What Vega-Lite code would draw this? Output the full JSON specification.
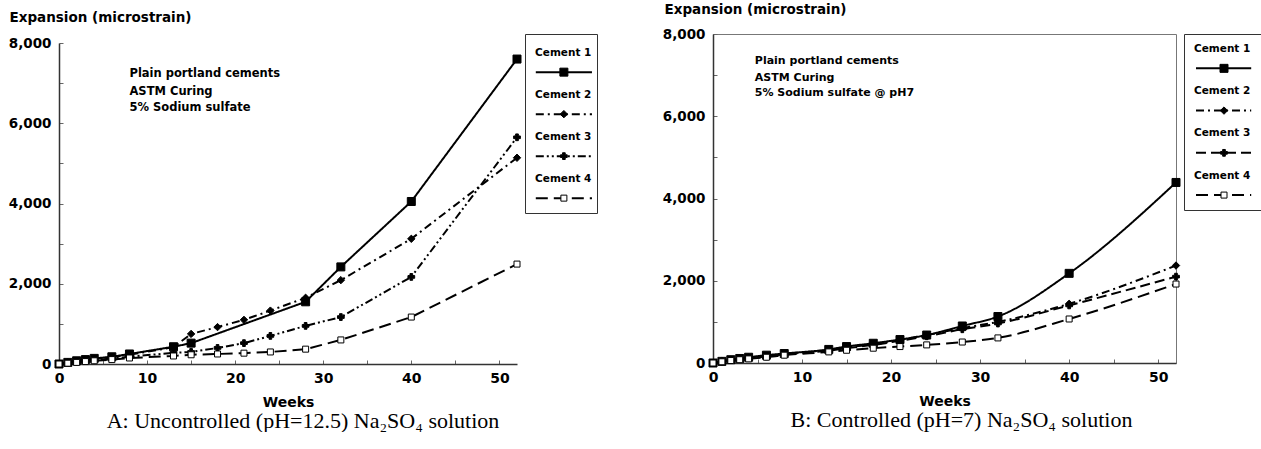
{
  "$schema": "https://vega.github.io/schema/vega-lite/v6.json",
  "background": "white",
  "padding": {"left": 8, "top": 1, "right": 0, "bottom": 0},
  "bounds": "flush",
  "spacing": 8,
  "config": {"font": "DejaVu Sans", "view": {"stroke": "#777"}},
  "resolve": {"scale": {"strokeDash": "independent", "shape": "independent", "fill": "independent", "size": "independent"}},
  "datasets": {
    "a": [
      {"cement": "Cement 1", "week": 0, "exp": 0}, {"cement": "Cement 1", "week": 1, "exp": 40}, {"cement": "Cement 1", "week": 2, "exp": 80}, {"cement": "Cement 1", "week": 3, "exp": 110}, {"cement": "Cement 1", "week": 4, "exp": 140}, {"cement": "Cement 1", "week": 6, "exp": 180}, {"cement": "Cement 1", "week": 8, "exp": 250}, {"cement": "Cement 1", "week": 13, "exp": 430}, {"cement": "Cement 1", "week": 15, "exp": 520}, {"cement": "Cement 1", "week": 28, "exp": 1550}, {"cement": "Cement 1", "week": 32, "exp": 2420}, {"cement": "Cement 1", "week": 40, "exp": 4050}, {"cement": "Cement 1", "week": 52, "exp": 7600},
      {"cement": "Cement 2", "week": 0, "exp": 0}, {"cement": "Cement 2", "week": 1, "exp": 40}, {"cement": "Cement 2", "week": 2, "exp": 70}, {"cement": "Cement 2", "week": 3, "exp": 100}, {"cement": "Cement 2", "week": 4, "exp": 130}, {"cement": "Cement 2", "week": 6, "exp": 170}, {"cement": "Cement 2", "week": 8, "exp": 230}, {"cement": "Cement 2", "week": 13, "exp": 420}, {"cement": "Cement 2", "week": 15, "exp": 750}, {"cement": "Cement 2", "week": 18, "exp": 920}, {"cement": "Cement 2", "week": 21, "exp": 1100}, {"cement": "Cement 2", "week": 24, "exp": 1330}, {"cement": "Cement 2", "week": 28, "exp": 1650}, {"cement": "Cement 2", "week": 32, "exp": 2090}, {"cement": "Cement 2", "week": 40, "exp": 3120}, {"cement": "Cement 2", "week": 52, "exp": 5140},
      {"cement": "Cement 3", "week": 0, "exp": 0}, {"cement": "Cement 3", "week": 1, "exp": 30}, {"cement": "Cement 3", "week": 2, "exp": 60}, {"cement": "Cement 3", "week": 3, "exp": 80}, {"cement": "Cement 3", "week": 4, "exp": 100}, {"cement": "Cement 3", "week": 6, "exp": 140}, {"cement": "Cement 3", "week": 8, "exp": 180}, {"cement": "Cement 3", "week": 13, "exp": 280}, {"cement": "Cement 3", "week": 15, "exp": 300}, {"cement": "Cement 3", "week": 18, "exp": 400}, {"cement": "Cement 3", "week": 21, "exp": 520}, {"cement": "Cement 3", "week": 24, "exp": 700}, {"cement": "Cement 3", "week": 28, "exp": 950}, {"cement": "Cement 3", "week": 32, "exp": 1170}, {"cement": "Cement 3", "week": 40, "exp": 2170}, {"cement": "Cement 3", "week": 52, "exp": 5650},
      {"cement": "Cement 4", "week": 0, "exp": 0}, {"cement": "Cement 4", "week": 1, "exp": 20}, {"cement": "Cement 4", "week": 2, "exp": 40}, {"cement": "Cement 4", "week": 3, "exp": 60}, {"cement": "Cement 4", "week": 4, "exp": 80}, {"cement": "Cement 4", "week": 6, "exp": 110}, {"cement": "Cement 4", "week": 8, "exp": 150}, {"cement": "Cement 4", "week": 13, "exp": 200}, {"cement": "Cement 4", "week": 15, "exp": 230}, {"cement": "Cement 4", "week": 18, "exp": 250}, {"cement": "Cement 4", "week": 21, "exp": 270}, {"cement": "Cement 4", "week": 24, "exp": 300}, {"cement": "Cement 4", "week": 28, "exp": 370}, {"cement": "Cement 4", "week": 32, "exp": 600}, {"cement": "Cement 4", "week": 40, "exp": 1170}, {"cement": "Cement 4", "week": 52, "exp": 2490}
    ],
    "b": [
      {"cement": "Cement 1", "week": 0, "exp": 0}, {"cement": "Cement 1", "week": 1, "exp": 40}, {"cement": "Cement 1", "week": 2, "exp": 80}, {"cement": "Cement 1", "week": 3, "exp": 110}, {"cement": "Cement 1", "week": 4, "exp": 140}, {"cement": "Cement 1", "week": 6, "exp": 190}, {"cement": "Cement 1", "week": 8, "exp": 230}, {"cement": "Cement 1", "week": 13, "exp": 330}, {"cement": "Cement 1", "week": 15, "exp": 400}, {"cement": "Cement 1", "week": 18, "exp": 480}, {"cement": "Cement 1", "week": 21, "exp": 570}, {"cement": "Cement 1", "week": 24, "exp": 680}, {"cement": "Cement 1", "week": 28, "exp": 900}, {"cement": "Cement 1", "week": 32, "exp": 1130}, {"cement": "Cement 1", "week": 40, "exp": 2180}, {"cement": "Cement 1", "week": 52, "exp": 4390},
      {"cement": "Cement 2", "week": 0, "exp": 0}, {"cement": "Cement 2", "week": 1, "exp": 40}, {"cement": "Cement 2", "week": 2, "exp": 70}, {"cement": "Cement 2", "week": 3, "exp": 100}, {"cement": "Cement 2", "week": 4, "exp": 130}, {"cement": "Cement 2", "week": 6, "exp": 170}, {"cement": "Cement 2", "week": 8, "exp": 220}, {"cement": "Cement 2", "week": 13, "exp": 320}, {"cement": "Cement 2", "week": 15, "exp": 380}, {"cement": "Cement 2", "week": 18, "exp": 450}, {"cement": "Cement 2", "week": 21, "exp": 560}, {"cement": "Cement 2", "week": 24, "exp": 680}, {"cement": "Cement 2", "week": 28, "exp": 850}, {"cement": "Cement 2", "week": 32, "exp": 1000}, {"cement": "Cement 2", "week": 40, "exp": 1440}, {"cement": "Cement 2", "week": 52, "exp": 2370},
      {"cement": "Cement 3", "week": 0, "exp": 0}, {"cement": "Cement 3", "week": 1, "exp": 40}, {"cement": "Cement 3", "week": 2, "exp": 70}, {"cement": "Cement 3", "week": 3, "exp": 100}, {"cement": "Cement 3", "week": 4, "exp": 120}, {"cement": "Cement 3", "week": 6, "exp": 160}, {"cement": "Cement 3", "week": 8, "exp": 210}, {"cement": "Cement 3", "week": 13, "exp": 300}, {"cement": "Cement 3", "week": 15, "exp": 360}, {"cement": "Cement 3", "week": 18, "exp": 440}, {"cement": "Cement 3", "week": 21, "exp": 540}, {"cement": "Cement 3", "week": 24, "exp": 650}, {"cement": "Cement 3", "week": 28, "exp": 820}, {"cement": "Cement 3", "week": 32, "exp": 960}, {"cement": "Cement 3", "week": 40, "exp": 1400}, {"cement": "Cement 3", "week": 52, "exp": 2100},
      {"cement": "Cement 4", "week": 0, "exp": 0}, {"cement": "Cement 4", "week": 1, "exp": 30}, {"cement": "Cement 4", "week": 2, "exp": 60}, {"cement": "Cement 4", "week": 3, "exp": 80}, {"cement": "Cement 4", "week": 4, "exp": 100}, {"cement": "Cement 4", "week": 6, "exp": 140}, {"cement": "Cement 4", "week": 8, "exp": 190}, {"cement": "Cement 4", "week": 13, "exp": 270}, {"cement": "Cement 4", "week": 15, "exp": 310}, {"cement": "Cement 4", "week": 18, "exp": 360}, {"cement": "Cement 4", "week": 21, "exp": 400}, {"cement": "Cement 4", "week": 24, "exp": 440}, {"cement": "Cement 4", "week": 28, "exp": 510}, {"cement": "Cement 4", "week": 32, "exp": 610}, {"cement": "Cement 4", "week": 40, "exp": 1070}, {"cement": "Cement 4", "week": 52, "exp": 1920}
    ],
    "leg": [{"cement": "Cement 1"}, {"cement": "Cement 2"}, {"cement": "Cement 3"}, {"cement": "Cement 4"}],
    "noteA": [{"week": 8, "exp": 7227, "note": "Plain portland cements"}, {"week": 8, "exp": 6779, "note": "ASTM Curing"}, {"week": 8, "exp": 6380, "note": "5% Sodium sulfate"}],
    "noteB": [{"week": 4.7, "exp": 7344, "note": "Plain portland cements"}, {"week": 4.7, "exp": 6930, "note": "ASTM Curing"}, {"week": 4.7, "exp": 6565, "note": "5% Sodium sulfate @ pH7"}]
  },
  "hconcat": [
    {
      "width": 458, "height": 330,
      "data": {"name": "a"},
      "view": {"stroke": null},
      "title": {"text": "A: Uncontrolled (pH=12.5) Na₂SO₄ solution", "orient": "bottom", "anchor": "middle", "frame": "group", "font": "Liberation Serif", "fontSize": 22, "fontWeight": "normal", "color": "black", "dx": 15, "offset": 2},
      "encoding": {
        "x": {"field": "week", "type": "quantitative", "scale": {"domain": [0, 52], "nice": false},
          "axis": {"values": [0, 5, 10, 15, 20, 25, 30, 35, 40, 45, 50], "labelExpr": "datum.value % 10 === 0 ? datum.label : ''", "labelFlush": false, "labelFont": "DejaVu Sans", "labelFontWeight": "bold", "labelFontSize": 14, "labelColor": "black", "labelPadding": 11, "tickSize": -4, "tickColor": "#666", "domainColor": "#333", "domainWidth": 1.5, "grid": false, "title": "Weeks", "titleFont": "DejaVu Sans", "titleFontWeight": "bold", "titleFontSize": 14, "titleColor": "black", "titlePadding": 10}},
        "y": {"field": "exp", "type": "quantitative", "scale": {"domain": [0, 8000], "nice": false, "range": [330, 9]},
          "axis": {"values": [0, 1000, 2000, 3000, 4000, 5000, 6000, 7000, 8000], "labelExpr": "datum.value % 2000 === 0 ? format(datum.value, ',') : ''", "labelFont": "DejaVu Sans", "labelFontWeight": "bold", "labelFontSize": 13.5, "labelColor": "black", "labelPadding": 12, "tickSize": -4, "tickColor": "#666", "domainColor": "#333", "domainWidth": 1.5, "grid": false, "title": "Expansion (microstrain)", "titleFont": "DejaVu Sans", "titleFontWeight": "bold", "titleFontSize": 13.5, "titleColor": "black", "titleAngle": 0, "titleAlign": "left", "titleBaseline": "middle", "titleX": -50, "titleY": -17}}
      },
      "layer": [
        {"data": {"values": [{}]},
          "mark": {"type": "rule", "color": "#777", "strokeWidth": 1},
          "encoding": {"x": {"datum": 0}, "x2": {"datum": 52}, "y": {"datum": 8000}}},
        {"data": {"values": [{}]},
          "mark": {"type": "rule", "color": "#777", "strokeWidth": 1},
          "encoding": {"x": {"datum": 52}, "y": {"datum": 0}, "y2": {"datum": 8000}}},
        {"mark": {"type": "line", "strokeWidth": 2, "color": "black"},
          "encoding": {"strokeDash": {"field": "cement", "type": "nominal", "legend": null, "scale": {"domain": ["Cement 1", "Cement 2", "Cement 3", "Cement 4"], "range": [[1, 0], [8, 4, 2, 4], [8, 3, 2, 3, 2, 3], [12, 6]]}}}},
        {"mark": {"type": "point", "filled": true, "opacity": 1, "stroke": "black", "strokeWidth": 1},
          "encoding": {
            "shape": {"field": "cement", "type": "nominal", "legend": null, "scale": {"domain": ["Cement 1", "Cement 2", "Cement 3", "Cement 4"], "range": ["square", "diamond", "cross", "square"]}},
            "fill": {"field": "cement", "type": "nominal", "legend": null, "scale": {"domain": ["Cement 1", "Cement 2", "Cement 3", "Cement 4"], "range": ["black", "black", "black", "white"]}},
            "size": {"field": "cement", "type": "nominal", "legend": null, "scale": {"domain": ["Cement 1", "Cement 2", "Cement 3", "Cement 4"], "range": [64, 36, 36, 49]}}
          }},
        {"data": {"name": "noteA"},
          "mark": {"type": "text", "align": "left", "baseline": "middle", "font": "DejaVu Sans", "fontWeight": "bold", "fontSize": 11.5, "fill": "black"},
          "encoding": {"text": {"field": "note", "type": "nominal"}}}
      ]
    },
    {
      "width": 72, "height": 179,
      "data": {"name": "leg"},
      "view": {"stroke": "#333", "strokeWidth": 1},
      "encoding": {
        "y": {"field": "cement", "type": "nominal", "axis": null, "scale": {"type": "band", "paddingInner": 0, "paddingOuter": 0.131, "align": 0.68}}
      },
      "layer": [
        {"mark": {"type": "text", "align": "left", "baseline": "middle", "font": "DejaVu Sans", "fontWeight": "bold", "fontSize": 10.5, "color": "black"},
          "encoding": {"x": {"datum": 0.14, "type": "quantitative", "scale": {"domain": [0, 1], "nice": false}, "axis": null}, "y": {"field": "cement", "type": "nominal", "axis": null, "bandPosition": 0.27}, "text": {"field": "cement"}}},
        {"mark": {"type": "rule", "strokeWidth": 2, "color": "black"},
          "encoding": {"x": {"datum": 0.15, "type": "quantitative"}, "x2": {"datum": 0.93}, "y": {"field": "cement", "type": "nominal", "axis": null, "bandPosition": 0.73},
            "strokeDash": {"field": "cement", "type": "nominal", "legend": null, "scale": {"domain": ["Cement 1", "Cement 2", "Cement 3", "Cement 4"], "range": [[1, 0], [8, 4, 2, 4], [8, 3, 2, 3, 2, 3], [12, 6]]}}}},
        {"mark": {"type": "point", "filled": true, "opacity": 1, "stroke": "black", "strokeWidth": 1},
          "encoding": {"x": {"datum": 0.54, "type": "quantitative"}, "y": {"field": "cement", "type": "nominal", "axis": null, "bandPosition": 0.73},
            "shape": {"field": "cement", "type": "nominal", "legend": null, "scale": {"domain": ["Cement 1", "Cement 2", "Cement 3", "Cement 4"], "range": ["square", "diamond", "cross", "square"]}},
            "fill": {"field": "cement", "type": "nominal", "legend": null, "scale": {"domain": ["Cement 1", "Cement 2", "Cement 3", "Cement 4"], "range": ["black", "black", "black", "white"]}},
            "size": {"field": "cement", "type": "nominal", "legend": null, "scale": {"domain": ["Cement 1", "Cement 2", "Cement 3", "Cement 4"], "range": [64, 36, 36, 49]}}}}
      ]
    },
    {"width": 100, "height": 1, "data": {"values": []}, "mark": "point", "encoding": {}, "view": {"stroke": null}},
    {
      "width": 463, "height": 329,
      "data": {"name": "b"},
      "view": {"stroke": "#777", "strokeWidth": 1},
      "title": {"text": "B: Controlled (pH=7) Na₂SO₄ solution", "orient": "bottom", "anchor": "middle", "frame": "group", "font": "Liberation Serif", "fontSize": 22, "fontWeight": "normal", "color": "black", "dx": 17, "offset": 2},
      "encoding": {
        "x": {"field": "week", "type": "quantitative", "scale": {"domain": [0, 52], "nice": false},
          "axis": {"values": [0, 5, 10, 15, 20, 25, 30, 35, 40, 45, 50], "labelExpr": "datum.value % 10 === 0 ? datum.label : ''", "labelFlush": false, "labelFont": "DejaVu Sans", "labelFontWeight": "bold", "labelFontSize": 14, "labelColor": "black", "labelPadding": 11, "tickSize": -4, "tickColor": "#666", "domainColor": "#333", "domainWidth": 1.5, "grid": false, "title": "Weeks", "titleFont": "DejaVu Sans", "titleFontWeight": "bold", "titleFontSize": 14, "titleColor": "black", "titlePadding": 10}},
        "y": {"field": "exp", "type": "quantitative", "scale": {"domain": [0, 8000], "nice": false},
          "axis": {"values": [0, 1000, 2000, 3000, 4000, 5000, 6000, 7000, 8000], "labelExpr": "datum.value % 2000 === 0 ? format(datum.value, ',') : ''", "labelFont": "DejaVu Sans", "labelFontWeight": "bold", "labelFontSize": 13.5, "labelColor": "black", "labelPadding": 12, "tickSize": -4, "tickColor": "#666", "domainColor": "#333", "domainWidth": 1.5, "grid": false, "title": "Expansion (microstrain)", "titleFont": "DejaVu Sans", "titleFontWeight": "bold", "titleFontSize": 13.5, "titleColor": "black", "titleAngle": 0, "titleAlign": "left", "titleBaseline": "middle", "titleX": -49, "titleY": -25}}
      },
      "layer": [
        {"mark": {"type": "line", "strokeWidth": 2, "color": "black", "interpolate": "monotone"},
          "encoding": {"strokeDash": {"field": "cement", "type": "nominal", "legend": null, "scale": {"domain": ["Cement 1", "Cement 2", "Cement 3", "Cement 4"], "range": [[1, 0], [8, 4, 2, 4], [10, 5], [12, 6]]}}}},
        {"mark": {"type": "point", "filled": true, "opacity": 1, "stroke": "black", "strokeWidth": 1},
          "encoding": {
            "shape": {"field": "cement", "type": "nominal", "legend": null, "scale": {"domain": ["Cement 1", "Cement 2", "Cement 3", "Cement 4"], "range": ["square", "diamond", "cross", "square"]}},
            "fill": {"field": "cement", "type": "nominal", "legend": null, "scale": {"domain": ["Cement 1", "Cement 2", "Cement 3", "Cement 4"], "range": ["black", "black", "black", "white"]}},
            "size": {"field": "cement", "type": "nominal", "legend": null, "scale": {"domain": ["Cement 1", "Cement 2", "Cement 3", "Cement 4"], "range": [64, 36, 36, 49]}}
          }},
        {"data": {"name": "noteB"},
          "mark": {"type": "text", "align": "left", "baseline": "middle", "font": "DejaVu Sans", "fontWeight": "bold", "fontSize": 11, "fill": "black"},
          "encoding": {"text": {"field": "note", "type": "nominal"}}}
      ]
    },
    {
      "width": 80, "height": 176,
      "data": {"name": "leg"},
      "view": {"stroke": "#333", "strokeWidth": 1},
      "encoding": {
        "y": {"field": "cement", "type": "nominal", "axis": null, "scale": {"type": "band", "paddingInner": 0, "paddingOuter": 0.083}}
      },
      "layer": [
        {"mark": {"type": "text", "align": "left", "baseline": "middle", "font": "DejaVu Sans", "fontWeight": "bold", "fontSize": 10.5, "color": "black"},
          "encoding": {"x": {"datum": 0.125, "type": "quantitative", "scale": {"domain": [0, 1], "nice": false}, "axis": null}, "y": {"field": "cement", "type": "nominal", "axis": null, "bandPosition": 0.27}, "text": {"field": "cement"}}},
        {"mark": {"type": "rule", "strokeWidth": 2, "color": "black"},
          "encoding": {"x": {"datum": 0.15, "type": "quantitative"}, "x2": {"datum": 0.84}, "y": {"field": "cement", "type": "nominal", "axis": null, "bandPosition": 0.73},
            "strokeDash": {"field": "cement", "type": "nominal", "legend": null, "scale": {"domain": ["Cement 1", "Cement 2", "Cement 3", "Cement 4"], "range": [[1, 0], [8, 4, 2, 4], [10, 5], [12, 6]]}}}},
        {"mark": {"type": "point", "filled": true, "opacity": 1, "stroke": "black", "strokeWidth": 1},
          "encoding": {"x": {"datum": 0.5, "type": "quantitative"}, "y": {"field": "cement", "type": "nominal", "axis": null, "bandPosition": 0.73},
            "shape": {"field": "cement", "type": "nominal", "legend": null, "scale": {"domain": ["Cement 1", "Cement 2", "Cement 3", "Cement 4"], "range": ["square", "diamond", "cross", "square"]}},
            "fill": {"field": "cement", "type": "nominal", "legend": null, "scale": {"domain": ["Cement 1", "Cement 2", "Cement 3", "Cement 4"], "range": ["black", "black", "black", "white"]}},
            "size": {"field": "cement", "type": "nominal", "legend": null, "scale": {"domain": ["Cement 1", "Cement 2", "Cement 3", "Cement 4"], "range": [64, 36, 36, 49]}}}}
      ]
    }
  ]
}
